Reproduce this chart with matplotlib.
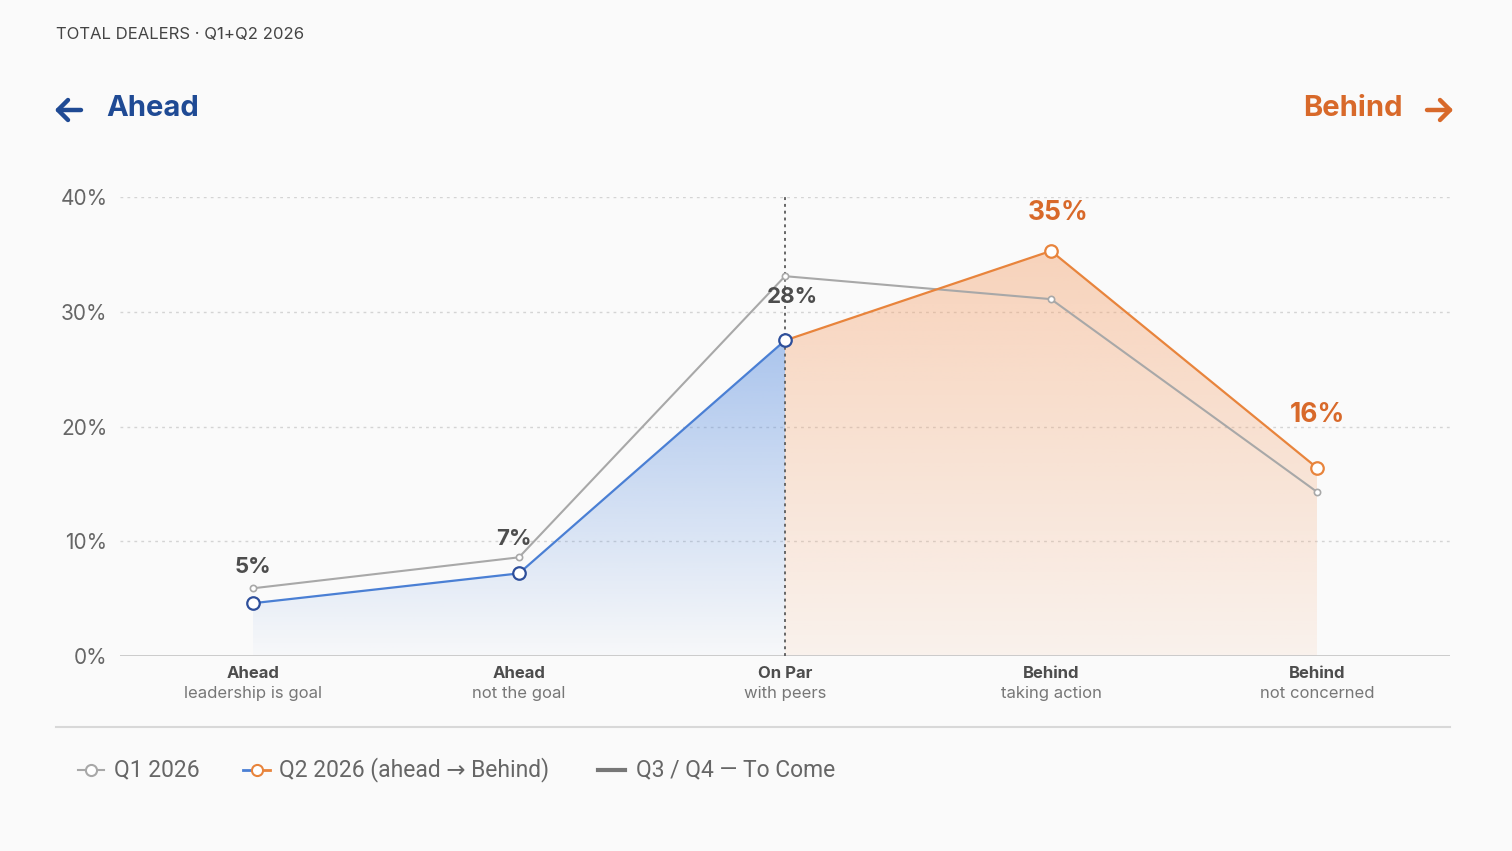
# Dealer position chart: Q1 vs Q2 2026
import matplotlib.pyplot as plt
import numpy as np
from matplotlib.colors import to_rgb
from matplotlib.lines import Line2D

plt.rcParams["font.family"] = ["Inter", "DejaVu Sans"]

CATEGORY_TOP = ["Ahead", "Ahead", "On Par", "Behind", "Behind"]
CATEGORY_SUB = ["leadership is goal", "not the goal", "with peers",
                "taking action", "not concerned"]
Q1_VALUES = [5.9, 8.6, 33.1, 31.1, 14.3]
Q2_VALUES = [4.6, 7.2, 27.5, 35.3, 16.4]
Q2_LABELS = ["5%", "7%", "28%", "35%", "16%"]
Y_TICKS = [0, 10, 20, 30, 40]

BG = "#fafafa"
BLUE = "#4a7fd4"
BLUE_DARK = "#2e4f9b"
ORANGE = "#e8843c"
ORANGE_TEXT = "#d8692a"
NAVY = "#1f4a94"
GRAY_LINE = "#a8a8a8"

W, H = 1512, 851


def fx(px):
    return px / W


def fy(py):
    return 1 - py / H


def gradient_fill(ax, x, y, color, alpha_top, alpha_bottom, ymax):
    poly = ax.fill_between(x, 0, y, color="none", lw=0)
    rgb = to_rgb(color)
    n = 256
    img = np.zeros((n, 1, 4))
    img[:, 0, :3] = rgb
    img[:, 0, 3] = np.linspace(alpha_top, alpha_bottom, n)
    im = ax.imshow(img, aspect="auto", origin="upper",
                   extent=(min(x), max(x), 0, ymax), zorder=1)
    im.set_clip_path(poly.get_paths()[0], transform=ax.transData)


def draw_arrow(fig, x0, x1, y, color, head_left):
    # shaft plus chevron head, in pixel coords
    kw = dict(color=color, lw=3.2, solid_capstyle="round",
              solid_joinstyle="round")
    fig.add_artist(Line2D([fx(x0), fx(x1)], [fy(y), fy(y)], **kw))
    tip = x0 if head_left else x1
    back = tip + 10 if head_left else tip - 10
    fig.add_artist(Line2D([fx(back), fx(tip), fx(back)],
                          [fy(y - 10), fy(y), fy(y + 10)], **kw))


def main() -> None:
    fig = plt.figure(figsize=(W / 100, H / 100), dpi=100, facecolor=BG)
    ax = fig.add_axes([fx(120), fy(656), 1330 / W, 459 / H])
    ax.set_facecolor(BG)

    x = np.arange(len(CATEGORY_TOP))

    # gradient areas under Q2
    gradient_fill(ax, x[:3], Q2_VALUES[:3], "#5b8fe0", 0.5, 0.02,
                  max(Q2_VALUES[:3]))
    gradient_fill(ax, x[2:], Q2_VALUES[2:], "#f5a36e", 0.45, 0.1,
                  max(Q2_VALUES[2:]))

    # grid
    for t in Y_TICKS[1:]:
        ax.axhline(t, color="#d4d4d4", lw=1.0, ls=(0, (2, 3)), zorder=0)
    ax.axhline(0, color="#c8c8c8", lw=1.3, zorder=2)
    ax.vlines(2, 0, 40, color="#666666", lw=1.4, ls=(0, (1.5, 2)),
              zorder=3)

    # Q1
    ax.plot(x, Q1_VALUES, color=GRAY_LINE, lw=1.5, marker="o",
            markersize=4.5, markerfacecolor="white",
            markeredgecolor=GRAY_LINE, markeredgewidth=1.2, zorder=4)

    # Q2 split blue / orange
    ax.plot(x[:3], Q2_VALUES[:3], color=BLUE, lw=1.6, zorder=5)
    ax.plot(x[2:], Q2_VALUES[2:], color=ORANGE, lw=1.6, zorder=5)
    for i in range(len(x)):
        edge = BLUE_DARK if i <= 2 else ORANGE
        ax.plot(x[i], Q2_VALUES[i], marker="o", markersize=9,
                markerfacecolor="white", markeredgecolor=edge,
                markeredgewidth=1.6, zorder=6)

    # value labels
    offsets = [(0, 26), (-4, 25), (5, 31), (5, 27), (0, 38)]
    for i, lab in enumerate(Q2_LABELS):
        if i <= 2:
            color, size = "#4d4d4d", 16
        else:
            color, size = ORANGE_TEXT, 19
        ax.annotate(lab, (x[i], Q2_VALUES[i]), xytext=offsets[i],
                    textcoords="offset points", ha="center",
                    va="center", fontsize=size, fontweight="bold",
                    color=color, zorder=7)

    ax.set_xlim(-0.5, 4.5)
    ax.set_ylim(0, 40)
    ax.set_yticks(Y_TICKS)
    ax.set_yticklabels([f"{t}%" for t in Y_TICKS], fontsize=15,
                       color="#666666")
    ax.set_xticks([])
    ax.tick_params(axis="y", length=0, pad=9)
    for s in ax.spines.values():
        s.set_visible(False)

    for i in range(len(x)):
        ax.text(x[i], -1.55, CATEGORY_TOP[i], ha="center", va="center",
                fontsize=12, fontweight="bold", color="#4d4d4d")
        ax.text(x[i], -3.3, CATEGORY_SUB[i], ha="center", va="center",
                fontsize=12, color="#777777")

    # header
    fig.text(fx(56), fy(34), "TOTAL DEALERS · Q1+Q2 2026",
             fontsize=12, color="#444444", va="center")
    draw_arrow(fig, 58, 81, 110, NAVY, head_left=True)
    fig.text(fx(106), fy(108), "Ahead", fontsize=21, color=NAVY,
             va="center", fontweight="bold")
    fig.text(fx(1403), fy(108), "Behind", fontsize=21,
             color=ORANGE_TEXT, va="center", ha="right",
             fontweight="bold")
    draw_arrow(fig, 1427, 1450, 110, ORANGE_TEXT, head_left=False)

    # separator
    fig.add_artist(Line2D([fx(56), fx(1450)], [fy(727), fy(727)],
                          color="#d8d8d8", lw=1.5))

    # legend
    ly = fy(770)
    lfont = dict(fontsize=16.5, color="#666666", va="center",
                 family=["Roboto", "DejaVu Sans"])
    fig.add_artist(Line2D([fx(78), fx(104)], [ly, ly],
                          color=GRAY_LINE, lw=1.5))
    fig.add_artist(Line2D([fx(91)], [ly], marker="o", markersize=8,
                          markerfacecolor="white",
                          markeredgecolor=GRAY_LINE, markeredgewidth=1.5))
    fig.text(fx(114), ly, "Q1 2026", **lfont)

    fig.add_artist(Line2D([fx(243), fx(257)], [ly, ly],
                          color=BLUE, lw=2))
    fig.add_artist(Line2D([fx(257), fx(270)], [ly, ly],
                          color=ORANGE, lw=2))
    fig.add_artist(Line2D([fx(257)], [ly], marker="o", markersize=8,
                          markerfacecolor="white",
                          markeredgecolor=ORANGE, markeredgewidth=1.5))
    fig.text(fx(279), ly, "Q2 2026 (ahead → Behind)", **lfont)

    fig.add_artist(Line2D([fx(598), fx(625)], [ly, ly],
                          color="#777777", lw=3))
    fig.text(fx(636), ly, "Q3 / Q4 — To Come", **lfont)

    fig.savefig("out.png", dpi=100, facecolor=BG)
    plt.close(fig)


if __name__ == "__main__":
    main()
